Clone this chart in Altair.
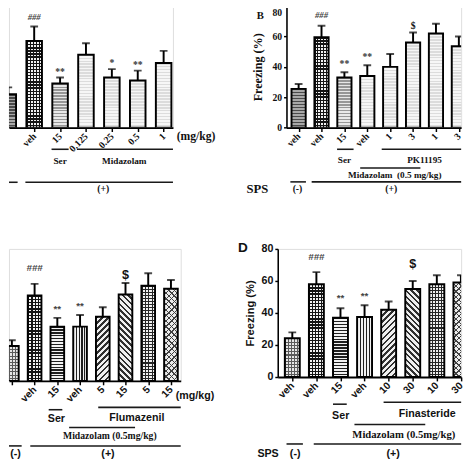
import altair as alt
import pandas as pd

SERIF = "Liberation Serif"
SANS = "Liberation Sans"

# ---------------- data ----------------
A_labels = ["veh", "veh", "15", "0.125", "0.25", "0.5", "1"]
A_mean = [22, 57, 29, 48, 33, 31, 42.5]
A_top = [26.5, 66.5, 33, 55.5, 38.5, 37.5, 50.5]
A_sig = ["", "###", "**", "", "*", "**", ""]

B_labels = ["veh", "veh", "15", "veh", "1", "3", "1", "3"]
B_mean = [25.5, 59.5, 33, 34, 40, 56, 62, 53.5]
B_top = [28.7, 67, 36.4, 41, 48.5, 62.6, 68.3, 60]
B_sig = ["", "###", "**", "**", "", "$", "", ""]

C_labels = ["veh", "veh", "15", "veh", "5", "15", "5", "15"]
C_mean = [23.6, 57.7, 36.7, 36.7, 43.3, 58.4, 64.3, 62.3]
C_top = [27.5, 65.6, 42.6, 44.6, 49.8, 66.2, 72.8, 68.2]
C_sig = ["", "###", "**", "**", "", "$", "", ""]

D_labels = ["veh", "veh", "15", "veh", "10", "30", "10", "30"]
D_mean = [24.2, 58, 37, 37.5, 42, 55, 58, 59]
D_top = [27.9, 65.5, 43, 44.8, 47.2, 60, 63.6, 63.6]
D_sig = ["", "###", "**", "**", "", "$", "", ""]

# ---------------- styles (bar textures) ----------------
LIGHT = ("h", "#dcdcdc", "#f6f6f6", 0.5)
AB_pat = [("h", "#4a4a4a", "#a8a8a8", 0.5), ("grid", "#151515", "#f2f2f2", 0.42),
          ("h", "#979797", "#e8e8e8", 0.5), LIGHT, LIGHT, LIGHT, LIGHT, LIGHT]
CD_pat = [("grid", "#5a5a5a", "#e6e6e6", 0.35), ("grid", "#151515", "#f4f4f4", 0.42),
          ("h", "#202020", "#f2f2f2", 0.42), ("v", "#202020", "#f2f2f2", 0.42),
          ("d", "#303030", "#f0f0f0", 0.4), ("b", "#303030", "#f0f0f0", 0.45),
          ("grid", "#262626", "#f0f0f0", 0.33), ("x", "#404040", "#ececec", 0.4)]


def stripes(kind, dark, light, frac, w, h, period):
    """Linear gradient that paints stripes inside one bar's bounding box."""
    stops = []
    if kind in ("h", "v"):
        n = max(1, int(round((h if kind == "h" else w) / period)))
        tmax = 1.0
    else:
        r = h / w
        n = (w + h) / (period * 1.414)
        tmax = (w + h) / (w * (1 + r * r))
        n = max(1, int(round(n)))
    for j in range(n):
        a = tmax * j / n
        b = tmax * (j + frac) / n
        c = tmax * (j + 1) / n
        stops += [{"offset": a, "color": dark}, {"offset": b, "color": dark},
                  {"offset": b, "color": light}, {"offset": c, "color": light}]
    if tmax < 1:
        stops.append({"offset": 1, "color": light})
    g = {"gradient": "linear", "stops": stops}
    if kind == "h":
        g.update(x1=0, y1=0, x2=0, y2=1)
    elif kind == "v":
        g.update(x1=0, y1=0, x2=1, y2=0)
    elif kind == "d":
        g.update(x1=0, y1=0, x2=1, y2=h / w)
    else:
        g.update(x1=0, y1=1, x2=1, y2=1 - h / w)
    return g


def make_panel(labels, mean, top, sig, pats, cfg):
    n = len(labels)
    df = pd.DataFrame({"i": list(range(1, n + 1)), "mean": mean, "top": top, "sig": sig})
    base = alt.Chart(df)
    xs = alt.Scale(domain=cfg["dom"], nice=False, zero=False)
    ys = alt.Scale(domain=[0, cfg["ymax"]], nice=False, zero=True)
    arr = "[" + ",".join("'%s'" % (l if k not in cfg.get("hide", []) else "")
                          for k, l in enumerate(labels)) + "]"
    xaxis = alt.Axis(
        values=list(range(1, n + 1)), tickCount=40, labelExpr=arr + "[datum.value-1]",
        labelAngle=315, labelAlign="right", labelBaseline="middle",
        labelFont=cfg["tfont"], labelFontSize=cfg["tsize"], labelFontWeight="bold",
        labelColor="#111", labelPadding=3, labelOverlap=False, labelFlush=False,
        tickSize=4, tickColor="black", tickWidth=1.5,
        domainColor="black", domainWidth=2, grid=False, title=None)
    yaxis = cfg["yaxis"]

    def Y(f):
        if yaxis is None:
            return alt.Y(f, axis=None)
        return alt.Y(f)

    hw = cfg["hw"]
    pxi = cfg["width"] / (cfg["dom"][1] - cfg["dom"][0])
    pxu = cfg["height"] / cfg["ymax"]
    wpx = 2 * hw * pxi
    layers = []
    # textured fills, one layer per bar
    for k in range(n):
        kind, dark, light, frac = pats[k]
        hpx = mean[k] * pxu
        if kind == "grid":
            parts = [stripes("h", dark, light, frac, wpx, hpx, 3.2),
                     stripes("v", dark, "rgba(255,255,255,0)", frac, wpx, hpx, 3.2)]
        elif kind == "x":
            parts = [stripes("d", dark, light, frac * 0.6, wpx, hpx, 4.0),
                     stripes("b", dark, "rgba(255,255,255,0)", frac * 0.6, wpx, hpx, 4.0)]
        else:
            parts = [stripes(kind, dark, light, frac, wpx, hpx, 3.0 if kind in ("h", "v") else 4.2)]
        for g in parts:
            layers.append(base.transform_filter("datum.i == %d" % (k + 1)).transform_calculate(
                x0="datum.i-%f" % hw, x1="datum.i+%f" % hw
            ).mark_bar(fill=g, strokeWidth=0, clip=True).encode(
                x=alt.X("x0:Q", title=None), x2="x1:Q", y=Y("mean:Q"), y2=alt.datum(0)))
    # bar outlines carry the axes
    if yaxis is None:
        ybar = alt.Y("mean:Q", scale=ys, axis=None)
    else:
        ybar = alt.Y("mean:Q", scale=ys, axis=yaxis, title="Freezing (%)")
    outline = base.transform_calculate(
        x0="datum.i-%f" % hw, x1="datum.i+%f" % hw
    ).mark_bar(stroke="black", strokeWidth=2, fillOpacity=0, fill="white", clip=True).encode(
        x=alt.X("x0:Q", scale=xs, axis=xaxis, title=None), x2="x1:Q", y=ybar, y2=alt.datum(0))
    err = base.mark_rule(color="black", strokeWidth=2, clip=True).encode(
        x=alt.X("i:Q", title=None), y=Y("mean:Q"), y2="top:Q")
    cap = base.mark_tick(orient="horizontal", size=8, thickness=2, color="black", clip=True).encode(
        x=alt.X("i:Q", title=None), y=Y("top:Q"))
    layers += [outline, err, cap]
    for sym, (dy, font, size, style, color) in cfg["sig"].items():
        layers.append(base.transform_filter("datum.sig == '%s'" % sym).mark_text(
            dy=dy, font=font, fontSize=size, fontStyle=style, fontWeight="bold", color=color,
            baseline="middle").encode(
            x=alt.X("i:Q", title=None), y=Y("top:Q"), text="sig:N"))
    for a in cfg["ann"]:
        if a[0] == "rule":
            _, x1, x2, py = a
            layers.append(alt.Chart(alt.Data(values=[{"a": x1, "b": x2}])).mark_rule(
                color="#1a1a1a", strokeWidth=1.6).encode(
                x=alt.X("a:Q", title=None), x2="b:Q", y=alt.value(py)))
        else:
            _, x, py, txt, font, size, align = a
            layers.append(alt.Chart(alt.Data(values=[{"a": x, "t": txt}])).mark_text(
                font=font, fontSize=size, fontWeight="bold", color="#111", align=align,
                baseline="middle").encode(
                x=alt.X("a:Q", title=None), y=alt.value(py), text="t:N"))
    return alt.layer(*layers).properties(width=cfg["width"], height=cfg["height"])


yaxis_B = alt.Axis(values=[0, 20, 40, 60, 80], tickCount=40, titleFont=SERIF,
                   titleFontSize=12.5, titleFontWeight="bold", titleColor="#111", titlePadding=8,
                   labelFont=SERIF, labelFontSize=10, labelFontWeight="bold", labelColor="#111",
                   labelBaseline={"condition": {"test": "datum.value == 80", "value": "top"},
                                  "value": "middle"},
                   labelOffset={"condition": {"test": "datum.value == 80", "value": 2}, "value": 0},
                   labelPadding=2, labelOverlap=False, tickSize=3, tickColor="black", tickWidth=1.5,
                   domainColor="black", domainWidth=1.6, grid=False)
yaxis_D = alt.Axis(values=[0, 20, 40, 60, 80], tickCount=40, titleFont=SANS,
                   titleFontSize=11.5, titleFontWeight="bold", titleColor="#111", titlePadding=6,
                   labelFont=SANS, labelFontSize=11, labelFontWeight="bold", labelColor="#111",
                   labelPadding=2, labelOverlap=False, tickSize=3, tickColor="black", tickWidth=1.5,
                   domainColor="black", domainWidth=1.6, grid=False)

sig_AB = {"###": (-10, SERIF, 9, "italic", "#444"), "**": (-6, SERIF, 10, "normal", "#333"),
          "*": (-6, SERIF, 10, "normal", "#333"), "$": (-7, SERIF, 10, "normal", "#111")}
sig_B = {"###": (-11, SERIF, 9, "italic", "#444"), "**": (-9, SERIF, 10, "normal", "#333"),
         "$": (-7, SERIF, 10, "normal", "#111")}
sig_C = {"###": (-16, SANS, 10, "italic", "#444"), "**": (-9, SANS, 10, "normal", "#444"),
         "$": (-8, SANS, 13, "normal", "#111")}
sig_D = {"###": (-16, SANS, 10, "italic", "#444"), "**": (-10, SANS, 10, "normal", "#444"),
         "$": (-17, SANS, 13, "normal", "#111")}

cfgA = dict(dom=[1.026, 7.36], hw=0.30, width=169, height=125.3, ymax=80, yaxis=None,
            tfont=SERIF, tsize=10, sig=sig_AB,
            ann=[("rule", 2.67, 3.33, 147.6), ("rule", 3.65, 7.36, 147.6),
                 ("rule", 1.026, 1.36, 181.6), ("rule", 1.66, 7.36, 181.6),
                 ("text", 7.505, 134.3, "(mg/kg)", SERIF, 12, "left"),
                 ("text", 3.0, 160, "Ser", SERIF, 9.5, "center"),
                 ("text", 5.48, 160, "Midazolam", SERIF, 9.5, "center"),
                 ("text", 4.67, 188.5, "(+)", SERIF, 10, "center")])
cfgB = dict(dom=[0.47, 8.10], hw=0.31, width=180, height=125.3, ymax=80, yaxis=yaxis_B,
            tfont=SERIF, tsize=10, sig=sig_B,
            ann=[("rule", 2.68, 3.40, 147.6), ("rule", 4.63, 8.10, 147.6),
                 ("rule", 3.69, 6.32, 166.8), ("rule", 0.64, 1.32, 181.2), ("rule", 1.57, 8.10, 181.2),
                 ("text", 3.0, 158.5, "Ser", SERIF, 9.5, "center"),
                 ("text", 6.5, 158.5, "PK11195", SERIF, 9.5, "center"),
                 ("text", 5.2, 173.7, "Midazolam\u00a0\u00a0(0.5 mg/kg)", SERIF, 9.5, "center"),
                 ("text", 0.95, 188.5, "(-)", SERIF, 10, "center"),
                 ("text", 5.05, 188.5, "(+)", SERIF, 10, "center"),
                 ("text", -0.8, 189, "SPS", SERIF, 13, "center"),
                 ("text", -0.675, 10, "B", SERIF, 11, "center")])
cfgC = dict(dom=[0.872, 8.43], hw=0.30, width=177, height=136, ymax=89.2, yaxis=None,
            tfont=SANS, tsize=10.5, sig=sig_C, hide=[0],
            ann=[("rule", 4.8, 8.43, 163.3), ("rule", 2.62, 3.22, 165.7),
                 ("rule", 3.52, 6.42, 184), ("rule", 0.872, 1.43, 203), ("rule", 1.81, 8.43, 203),
                 ("text", 8.21, 152, "(mg/kg)", SANS, 11, "left"),
                 ("text", 6.5, 174, "Flumazenil", SANS, 11, "center"),
                 ("text", 2.96, 175, "Ser", SANS, 11, "center"),
                 ("text", 5.31, 193, "Midazolam (0.5mg/kg)", SERIF, 10, "center"),
                 ("text", 1.16, 211, "(-)", SANS, 11, "center"),
                 ("text", 5.23, 211, "(+)", SANS, 11, "center")])
cfgD = dict(dom=[0.396, 8.01], hw=0.31, width=189, height=132, ymax=80, yaxis=yaxis_D,
            tfont=SANS, tsize=10.5, sig=sig_D,
            ann=[("rule", 4.79, 8.01, 158), ("rule", 2.69, 3.26, 160),
                 ("rule", 3.58, 6.52, 181), ("rule", 0.76, 1.44, 201), ("rule", 1.89, 8.01, 201),
                 ("text", 3.01, 172, "Ser", SANS, 11, "center"),
                 ("text", 6.6, 170, "Finasteride", SANS, 11, "center"),
                 ("text", 5.63, 192, "Midazolam (0.5mg/kg)", SERIF, 11, "center"),
                 ("text", 1.12, 211, "(-)", SANS, 11, "center"),
                 ("text", 5.19, 211, "(+)", SANS, 11, "center"),
                 ("text", -0.007, 211, "SPS", SANS, 11, "center"),
                 ("text", -1.05, -1, "D", SANS, 14, "center")])

pA = make_panel(A_labels, A_mean, A_top, A_sig, AB_pat, cfgA)
pB = make_panel(B_labels, B_mean, B_top, B_sig, AB_pat, cfgB)
pC = make_panel(C_labels, C_mean, C_top, C_sig, CD_pat, cfgC)
pD = make_panel(D_labels, D_mean, D_top, D_sig, CD_pat, cfgD)

row1 = alt.hconcat(pA, pB, spacing=117, bounds="flush")
row2 = alt.hconcat(pC, pD, spacing=100, bounds="flush")
chart = alt.vconcat(row1, row2, spacing=250.3, bounds="flush").properties(
    padding={"left": -1, "top": -11, "right": 0, "bottom": 0}
).configure_view(strokeWidth=0).configure(background="white")

chart.save("out.html", embed_options={"renderer": "svg", "actions": False})
